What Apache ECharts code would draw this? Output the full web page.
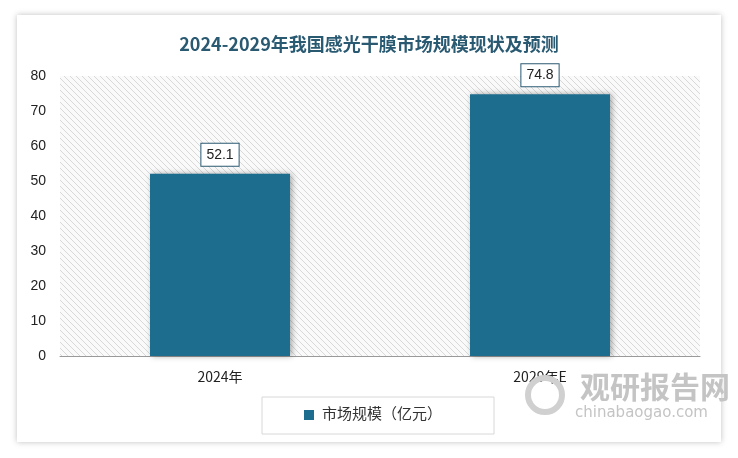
<!DOCTYPE html><html><head><meta charset="utf-8">
<script src="https://cdn.jsdelivr.net/npm/echarts@6/dist/echarts.min.js"></script>
<style>body{margin:0;background:#fff}#c{width:738px;height:458px}</style></head><body><div id="c"></div>
<script>
const categories=['2024年','2029年E'];
const values=[52.1,74.8];
const seriesName='市场规模（亿元）';
const titleText='2024-2029年我国感光干膜市场规模现状及预测';
const cv=document.createElement('canvas');cv.width=6;cv.height=6;
const cx=cv.getContext('2d');cx.fillStyle='#fafafa';cx.fillRect(0,0,6,6);
cx.strokeStyle='#cfcfcf';cx.lineWidth=0.8;
cx.beginPath();cx.moveTo(0,0);cx.lineTo(6,6);cx.moveTo(-3,3);cx.lineTo(3,9);cx.moveTo(3,-3);cx.lineTo(9,3);cx.stroke();
const ch=echarts.init(document.getElementById('c'));
ch.setOption({
 animation:false,
 graphic:[
  {type:'rect',z:-10,shape:{x:17,y:15,width:704,height:427},style:{fill:'#fff',shadowBlur:6,shadowColor:'rgba(0,0,0,0.25)'}},
  {type:'rect',z:5,shape:{x:262,y:397,width:232,height:37},style:{fill:'none',stroke:'#d8d8d8',lineWidth:1}},
  {type:'rect',z:6,shape:{x:304,y:410,width:10,height:10},style:{fill:'#1d6d8f'}},
  {type:'text',z:6,left:322,top:406,style:{text:seriesName,font:'15px "Noto Sans CJK SC"',fill:'#333'}},
  {type:'text',z:6,left:580,top:372,style:{text:'观研报告网',font:'bold 30px "Noto Sans CJK SC"',fill:'#c4c4c4'}},
  {type:'text',z:6,left:575,top:406,style:{text:'chinabaogao.com',font:'15px "DejaVu Sans"',fill:'#c4c4c4'}},
  {type:'circle',z:6,shape:{cx:545,cy:395,r:17},style:{fill:'none',stroke:'#d0d0d0',lineWidth:6}}
 ],
 title:{text:titleText,left:'center',top:30,textStyle:{fontFamily:'"Noto Sans CJK SC"',fontSize:18,fontWeight:'bold',color:'#2a5a72'}},
 grid:{left:60,right:38,top:76,bottom:102,show:true,borderWidth:0,backgroundColor:{image:cv,repeat:'repeat'}},
 xAxis:{type:'category',data:categories,axisTick:{show:false},axisLine:{lineStyle:{color:'#999'}},axisLabel:{fontSize:14,color:'#222',margin:14,fontFamily:'"Noto Sans CJK SC"'}},
 yAxis:{type:'value',min:0,max:80,interval:10,splitLine:{show:false},axisLabel:{fontSize:14,color:'#222',margin:14,fontFamily:'"Liberation Sans"'}},
 series:[{name:seriesName,type:'bar',data:values,barWidth:140,itemStyle:{color:'#1d6d8f',shadowBlur:6,shadowColor:'rgba(0,0,0,0.35)',shadowOffsetX:2,shadowOffsetY:0},
  label:{show:true,position:'top',distance:8,fontSize:14,color:'#222',backgroundColor:'#fff',borderColor:'#2a5a72',borderWidth:1,padding:[4,5],fontFamily:'"Liberation Sans"'}}]
});
</script></body></html>
